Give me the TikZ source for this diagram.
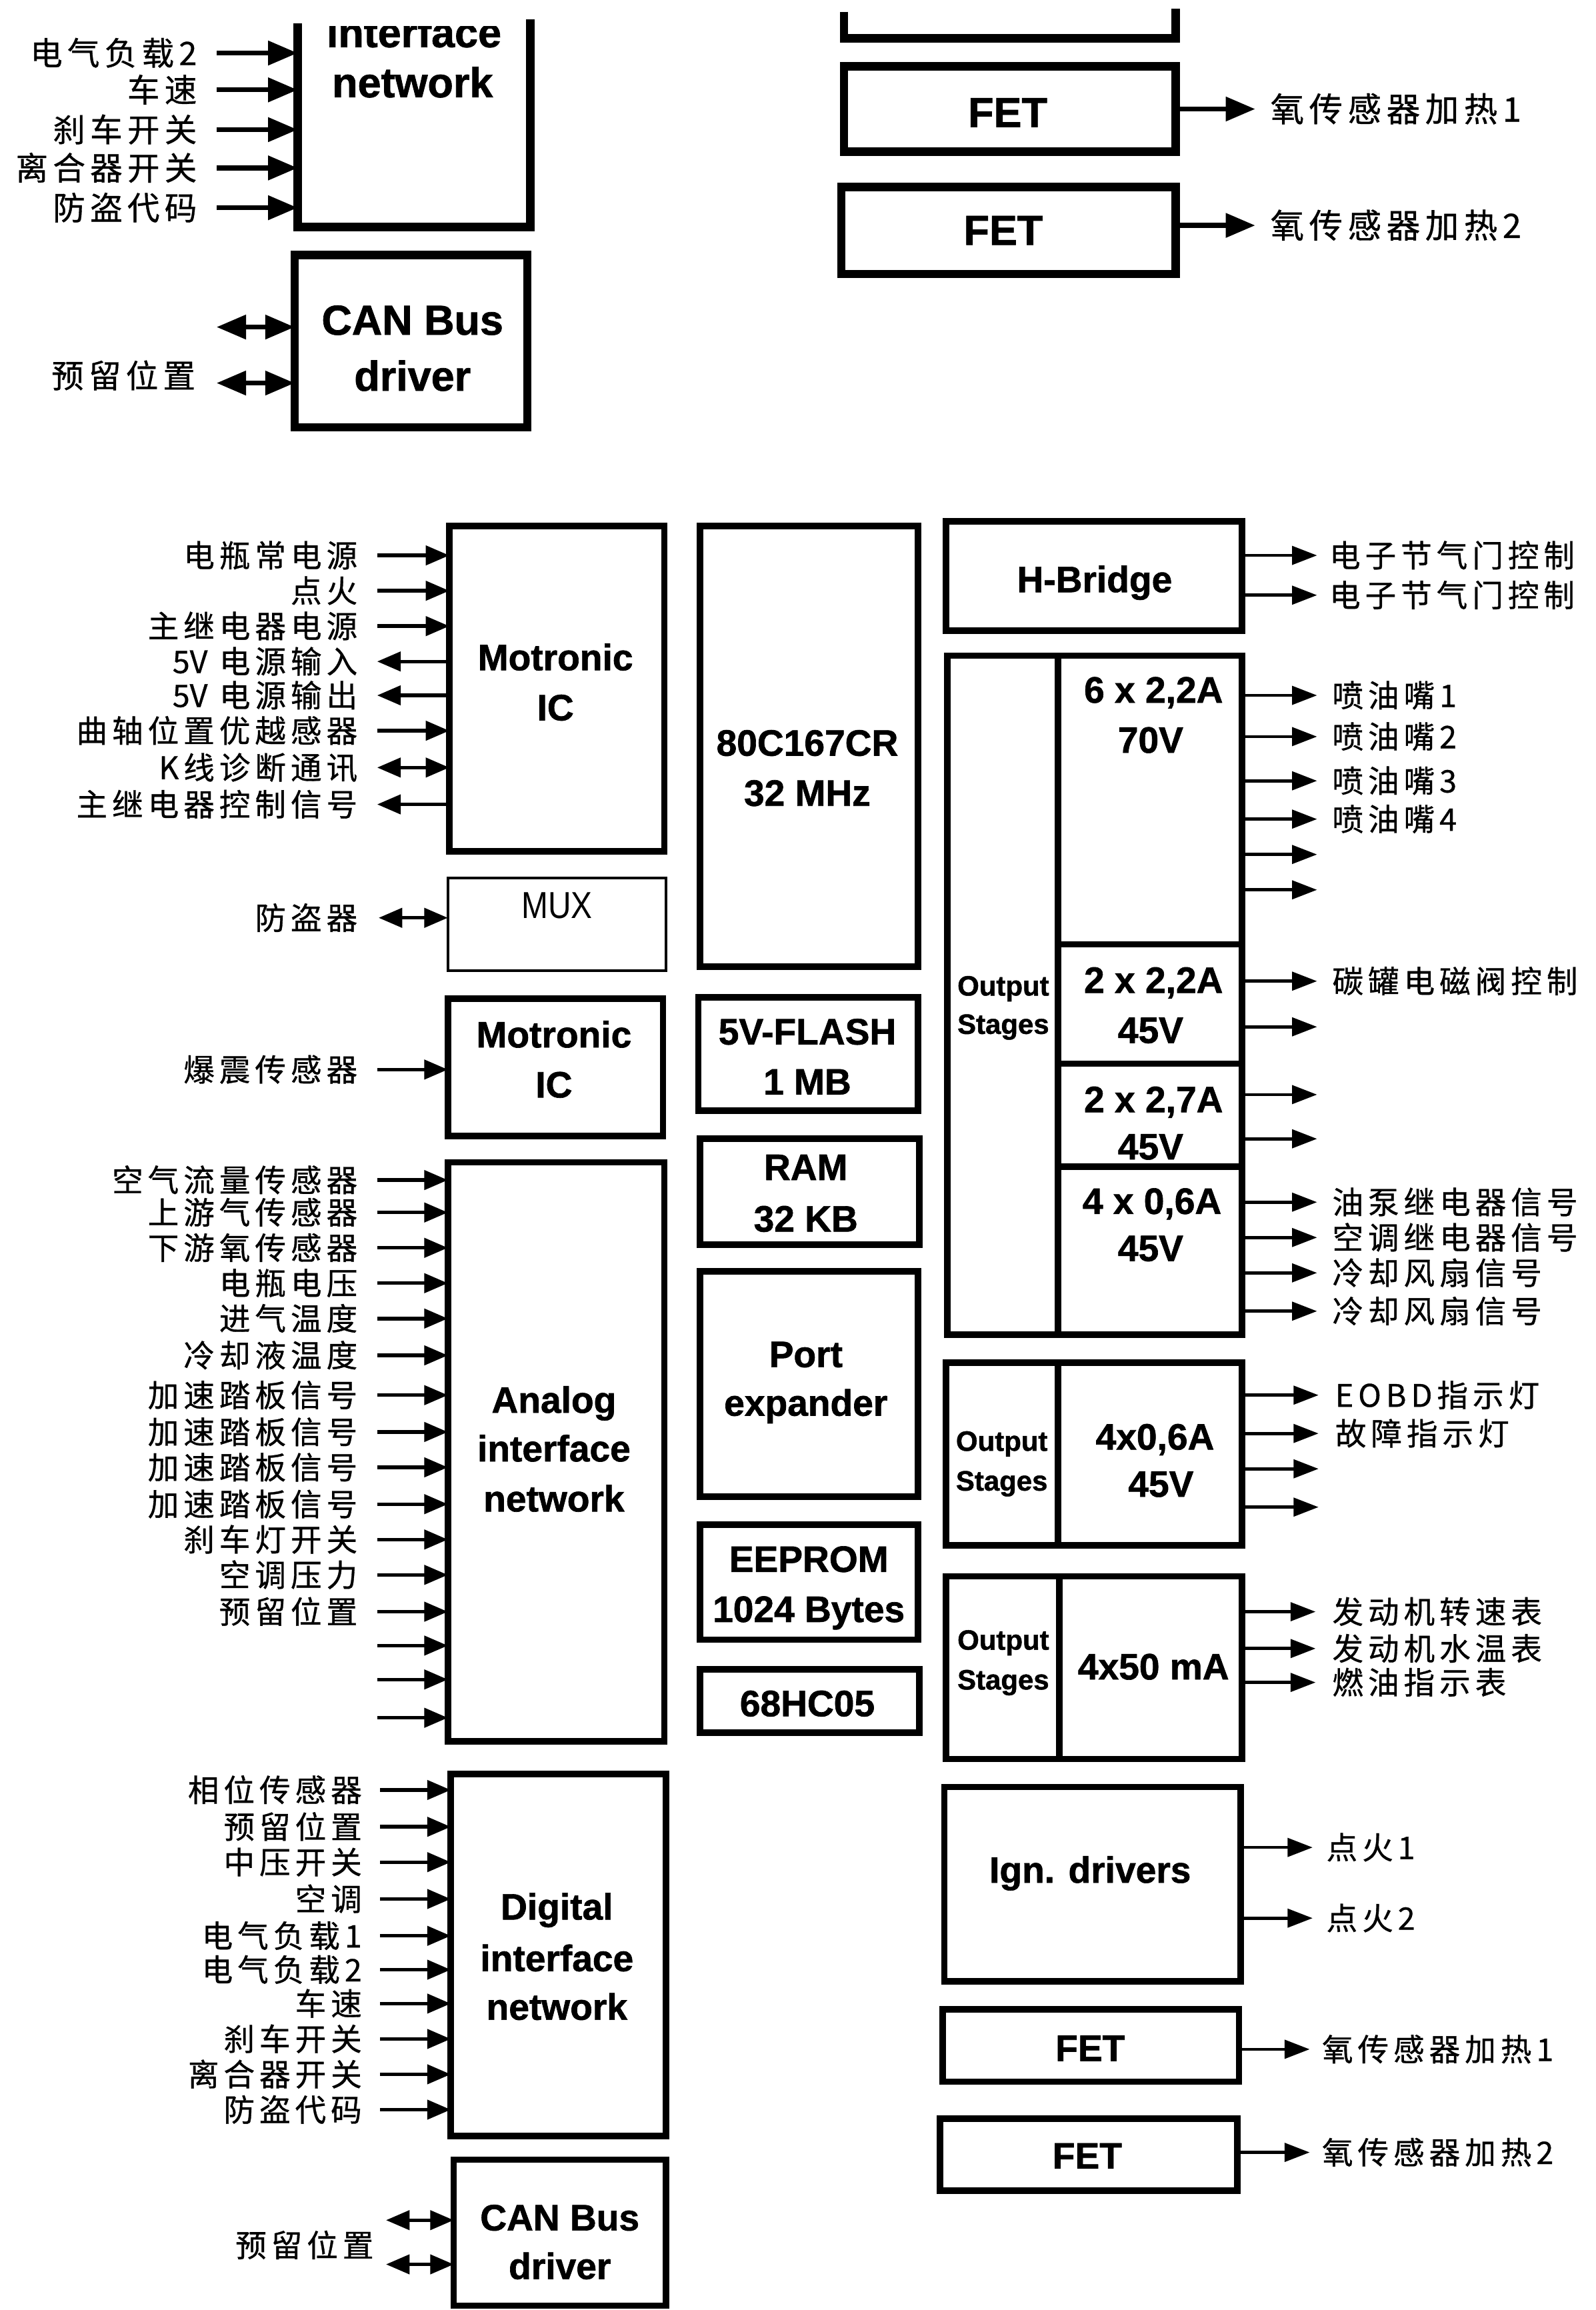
\documentclass[tikz,border=0pt]{standalone}
\usepackage{fontspec}
\setmainfont{Liberation Sans}[BoldFeatures={FakeBold=1.2}]
\newfontfamily\cjkf{Noto Sans CJK SC}[LetterSpace=15, FakeBold=0.7]
\usetikzlibrary{arrows.meta,fit}
\tikzset{
  bx/.style={draw, line width=2.5pt, inner sep=0pt, outer sep=0pt},
  tbx/.style={draw, line width=3.2pt, inner sep=0pt, outer sep=0pt},
  thinbx/.style={draw, line width=1pt, inner sep=0pt, outer sep=0pt},
  bt/.style={font=\bfseries\fontsize{14.2pt}{17pt}\selectfont, inner sep=0pt, text height=10.2pt, text depth=0pt},
  tbt/.style={font=\bfseries\fontsize{16.2pt}{19pt}\selectfont, inner sep=0pt, text height=11.6pt, text depth=0pt},
  st/.style={font=\bfseries\fontsize{10.8pt}{13pt}\selectfont, inner sep=0pt, text height=7.7pt, text depth=0pt},
  lab/.style={font=\cjkf\fontsize{12pt}{14pt}\selectfont, inner sep=0pt, text height=10.2pt, text depth=1.2pt},
  tlab/.style={font=\cjkf\fontsize{12.5pt}{15pt}\selectfont, inner sep=0pt, text height=10.6pt, text depth=1.25pt},
  trlab/.style={font=\cjkf\fontsize{13pt}{15pt}\selectfont, inner sep=0pt, text height=11pt, text depth=1.3pt},
  ain/.style={line width=1.4pt, -{Triangle[length=0.32cm,width=0.26cm]}},
  aout/.style={line width=1.4pt, {Triangle[length=0.32cm,width=0.26cm]}-},
  abi/.style={line width=1.4pt, {Triangle[length=0.32cm,width=0.26cm]}-{Triangle[length=0.32cm,width=0.26cm]}},
  rarr/.style={line width=1.2pt, -{Triangle[length=0.34cm,width=0.25cm]}},
  tain/.style={line width=1.9pt, -{Triangle[length=0.4cm,width=0.32cm]}},
  tabi/.style={line width=1.9pt, {Triangle[length=0.4cm,width=0.32cm]}-{Triangle[length=0.4cm,width=0.32cm]}},
}
\newcommand\fivev{{\addfontfeature{LetterSpace=0}5V}}
\begin{document}
\begin{tikzpicture}[x=0.02cm, y=-0.02cm]
\fill[white] (0,0) rectangle (1083,1568);
\useasboundingbox (0,0) rectangle (1083,1568);

% ================= TOP SECTION =================
\draw[tbx] (202,16) -- (202,154) -- (360,154) -- (360,13);
\coordinate (tnw) at (202,80);
\begin{scope}
  \clip (150,18) rectangle (420,70);
  \node[tbt, anchor=base] (tif) at (281,32) {interface};
\end{scope}
\node[tbt, anchor=base] (tnet) at (280,66) {network};
\foreach \yy/\lbl in {36/电气负载2, 61/车速, 88/刹车开关, 114/离合器开关, 141/防盗代码} {
  \node[tlab, anchor=east] (tl\yy) at (134,\yy) {\lbl};
  \coordinate (ts\yy) at (147,\yy);
  \draw[tain] (ts\yy) -- (ts\yy -| tnw);
}
\node[tbx, fit={(200,173) (358,290)}] (tcan) {};
\node[tbt] (tcan1) at (280,217) {CAN Bus};
\node[tbt] (tcan2) at (280,255) {driver};
\foreach \yy in {222,260} {
  \coordinate (tc\yy) at (147,\yy);
  \draw[tabi] (tc\yy) -- (tc\yy -| tcan.west);
}
\node[tlab, anchor=east] (tres) at (133,255) {预留位置};

\draw[tbx] (573,8) -- (573,26) -- (798,26) -- (798,6);
\node[tbx, fit={(573,45) (798,103)}] (tfet1) {};
\node[tbt] (tfet1t) at (684,76) {FET};
\node[tbx, fit={(571,127) (798,186)}] (tfet2) {};
\node[tbt] (tfet2t) at (681,156) {FET};
\coordinate (tf1e) at (852,74);
\draw[tain] (tf1e -| tfet1.east) -- (tf1e);
\node[trlab, anchor=west] (tf1l) at (862,74) {氧传感器加热1};
\coordinate (tf2e) at (852,153);
\draw[tain] (tf2e -| tfet2.east) -- (tf2e);
\node[trlab, anchor=west] (tf2l) at (862,153) {氧传感器加热2};

% ================= LEFT COLUMN =================
\node[bx, fit={(305,357) (451,578)}] (mot1) {};
\node[bt] (mot1a) at (377,446) {Motronic};
\node[bt] (mot1b) at (377,480) {IC};
\foreach \yy/\lbl in {377/电瓶常电源, 401/点火, 425/主继电器电源, 496/曲轴位置优越感器} {
  \node[lab, anchor=east] (ml\yy) at (243,\yy) {\lbl};
  \coordinate (ms\yy) at (256,\yy);
  \draw[ain] (ms\yy) -- (ms\yy -| mot1.west);
}
\foreach \yy/\lbl in {449/\fivev{} 电源输入, 472/\fivev{} 电源输出, 546/主继电器控制信号} {
  \node[lab, anchor=east] (ml\yy) at (243,\yy) {\lbl};
  \coordinate (ms\yy) at (256,\yy);
  \draw[aout] (ms\yy) -- (ms\yy -| mot1.west);
}
\node[lab, anchor=east] (ml521) at (243,521) {K线诊断通讯};
\coordinate (ms521) at (256,521);
\draw[abi] (ms521) -- (ms521 -| mot1.west);

\node[thinbx, fit={(304,596) (452,659)}] (mux) {};
\node[font=\fontsize{14.5pt}{17pt}\selectfont, xscale=0.85, inner sep=0pt, text height=10.4pt, text depth=0pt] (muxt) at (378,614) {MUX};
\node[lab, anchor=east] (muxl) at (243,623) {防盗器};
\coordinate (muxs) at (257,623);
\draw[abi] (muxs) -- (muxs -| mux.west);

\node[bx, fit={(304,678) (450,771)}] (mot2) {};
\node[bt] (mot2a) at (376,702) {Motronic};
\node[bt] (mot2b) at (376,736) {IC};
\node[lab, anchor=east] (kl) at (243,726) {爆震传感器};
\coordinate (ks) at (256,726);
\draw[ain] (ks) -- (ks -| mot2.west);

\node[bx, fit={(304,789) (451,1182)}] (ana) {};
\node[bt] (ana1) at (376,950) {Analog};
\node[bt] (ana2) at (376,983) {interface};
\node[bt] (ana3) at (376,1017) {network};
\foreach \yy/\lbl in {801/空气流量传感器, 823/上游气传感器, 847/下游氧传感器, 871/电瓶电压, 895/进气温度, 920/冷却液温度, 947/加速踏板信号, 972/加速踏板信号, 996/加速踏板信号, 1021/加速踏板信号, 1045/刹车灯开关, 1069/空调压力, 1094/预留位置} {
  \node[lab, anchor=east] (al\yy) at (243,\yy) {\lbl};
  \coordinate (as\yy) at (256,\yy);
  \draw[ain] (as\yy) -- (as\yy -| ana.west);
}
\foreach \yy in {1117,1140,1166} {
  \coordinate (as\yy) at (256,\yy);
  \draw[ain] (as\yy) -- (as\yy -| ana.west);
}

\node[bx, fit={(306,1204) (452,1450)}] (dig) {};
\node[bt] (dig1) at (378,1294) {Digital};
\node[bt] (dig2) at (378,1329) {interface};
\node[bt] (dig3) at (378,1362) {network};
\foreach \yy/\lbl in {1215/相位传感器, 1240/预留位置, 1264/中压开关, 1289/空调, 1314/电气负载1, 1337/电气负载2, 1360/车速, 1384/刹车开关, 1408/离合器开关, 1432/防盗代码} {
  \node[lab, anchor=east] (dl\yy) at (246,\yy) {\lbl};
  \coordinate (ds\yy) at (258,\yy);
  \draw[ain] (ds\yy) -- (ds\yy -| dig.west);
}

\node[bx, fit={(308,1466) (452,1565)}] (can) {};
\node[bt] (can1) at (380,1505) {CAN Bus};
\node[bt] (can2) at (380,1538) {driver};
\foreach \yy in {1507,1537} {
  \coordinate (cs\yy) at (262,\yy);
  \draw[abi] (cs\yy) -- (cs\yy -| can.west);
}
\node[lab, anchor=east] (canl) at (254,1524) {预留位置};

% ================= MIDDLE COLUMN =================
\node[bx, fit={(475,357) (623,656)}] (cpu) {};
\node[bt] (cpu1) at (548,504) {80C167CR};
\node[bt] (cpu2) at (548,538) {32 MHz};
\node[bx, fit={(474,677) (623,754)}] (flash) {};
\node[bt] (fl1) at (548,700) {5V-FLASH};
\node[bt] (fl2) at (548,734) {1 MB};
\node[bx, fit={(475,773) (624,845)}] (ram) {};
\node[bt] (ram1) at (547,792) {RAM};
\node[bt] (ram2) at (547,827) {32 KB};
\node[bx, fit={(475,863) (623,1016)}] (port) {};
\node[bt] (port1) at (547,919) {Port};
\node[bt] (port2) at (547,952) {expander};
\node[bx, fit={(475,1035) (623,1113)}] (eep) {};
\node[bt] (eep1) at (549,1058) {EEPROM};
\node[bt] (eep2) at (549,1092) {1024 Bytes};
\node[bx, fit={(475,1133) (624,1176)}] (hc) {};
\node[bt] (hc1) at (548,1156) {68HC05};

% ================= RIGHT COLUMN =================
\node[bx, fit={(642,354) (843,428)}] (hb) {};
\node[bt] (hb1) at (743,393) {H-Bridge};
\foreach \yy in {377,404} {
  \coordinate (he\yy) at (894,\yy);
  \draw[rarr] (he\yy -| hb.east) -- (he\yy);
  \node[lab, anchor=west] (hl\yy) at (902,\yy) {电子节气门控制};
}

\node[bx, fit={(643,445) (843,906)}] (os1) {};
\node[st] (os1a) at (681,669) {Output};
\node[st] (os1b) at (681,695) {Stages};
\node[bt] (s1a) at (783,468) {6 x 2,2A};
\node[bt] (s1b) at (781,502) {70V};
\node[bt] (s2a) at (783,665) {2 x 2,2A};
\node[bt] (s2b) at (781,699) {45V};
\node[bt] (s3a) at (783,746) {2 x 2,7A};
\node[bt] (s3b) at (781,778) {45V};
\node[bt] (s4a) at (782,815) {4 x 0,6A};
\node[bt] (s4b) at (781,847) {45V};
\draw[line width=2.5pt] (718,445) -- (718,906);
\draw[line width=2.5pt] (718,641) -- (843,641);
\draw[line width=2.5pt] (718,722) -- (843,722);
\draw[line width=2.5pt] (718,792) -- (843,792);
\foreach \yy/\lbl in {472/喷油嘴1, 500/喷油嘴2, 530/喷油嘴3, 556/喷油嘴4, 666/碳罐电磁阀控制, 816/油泵继电器信号, 840/空调继电器信号, 864/冷却风扇信号, 890/冷却风扇信号} {
  \coordinate (oe\yy) at (894,\yy);
  \draw[rarr] (oe\yy -| os1.east) -- (oe\yy);
  \node[lab, anchor=west] (ol\yy) at (904,\yy) {\lbl};
}
\foreach \yy in {580,604,697,743,773} {
  \coordinate (oe\yy) at (894,\yy);
  \draw[rarr] (oe\yy -| os1.east) -- (oe\yy);
}

\node[bx, fit={(642,925) (843,1049)}] (os2) {};
\draw[line width=2.5pt] (718,925) -- (718,1049);
\node[st] (os2a) at (680,978) {Output};
\node[st] (os2b) at (680,1005) {Stages};
\node[bt] (os2c) at (784,975) {4x0,6A};
\node[bt] (os2d) at (788,1007) {45V};
\foreach \yy/\lbl in {947/EOBD指示灯, 973/故障指示灯} {
  \coordinate (pe\yy) at (895,\yy);
  \draw[rarr] (pe\yy -| os2.east) -- (pe\yy);
  \node[lab, anchor=west] (pl\yy) at (906,\yy) {\lbl};
}
\foreach \yy in {997,1023} {
  \coordinate (pe\yy) at (895,\yy);
  \draw[rarr] (pe\yy -| os2.east) -- (pe\yy);
}

\node[bx, fit={(642,1070) (843,1194)}] (os3) {};
\draw[line width=2.5pt] (719,1070) -- (719,1194);
\node[st] (os3a) at (681,1113) {Output};
\node[st] (os3b) at (681,1140) {Stages};
\node[bt] (os3c) at (783,1131) {4x50 mA};
\foreach \yy/\lbl in {1094/发动机转速表, 1119/发动机水温表, 1142/燃油指示表} {
  \coordinate (qe\yy) at (893,\yy);
  \draw[rarr] (qe\yy -| os3.east) -- (qe\yy);
  \node[lab, anchor=west] (ql\yy) at (904,\yy) {\lbl};
}

\node[bx, fit={(641,1213) (842,1345)}] (ign) {};
\node[bt] (ign1) at (740,1269) {Ign. drivers};
\foreach \yy/\lbl in {1254/点火1, 1302/点火2} {
  \coordinate (ie\yy) at (891,\yy);
  \draw[rarr] (ie\yy -| ign.east) -- (ie\yy);
  \node[lab, anchor=west] (il\yy) at (900,\yy) {\lbl};
}

\node[bx, fit={(640,1364) (841,1413)}] (fet1) {};
\node[bt] (fet1t) at (740,1390) {FET};
\coordinate (fe1) at (889,1391);
\draw[rarr] (fe1 -| fet1.east) -- (fe1);
\node[lab, anchor=west] (fl1) at (897,1391) {氧传感器加热1};

\node[bx, fit={(638,1438) (840,1487)}] (fet2) {};
\node[bt] (fet2t) at (738,1463) {FET};
\coordinate (fe2) at (889,1461);
\draw[rarr] (fe2 -| fet2.east) -- (fe2);
\node[lab, anchor=west] (fl2) at (897,1461) {氧传感器加热2};
\end{tikzpicture}
\end{document}
